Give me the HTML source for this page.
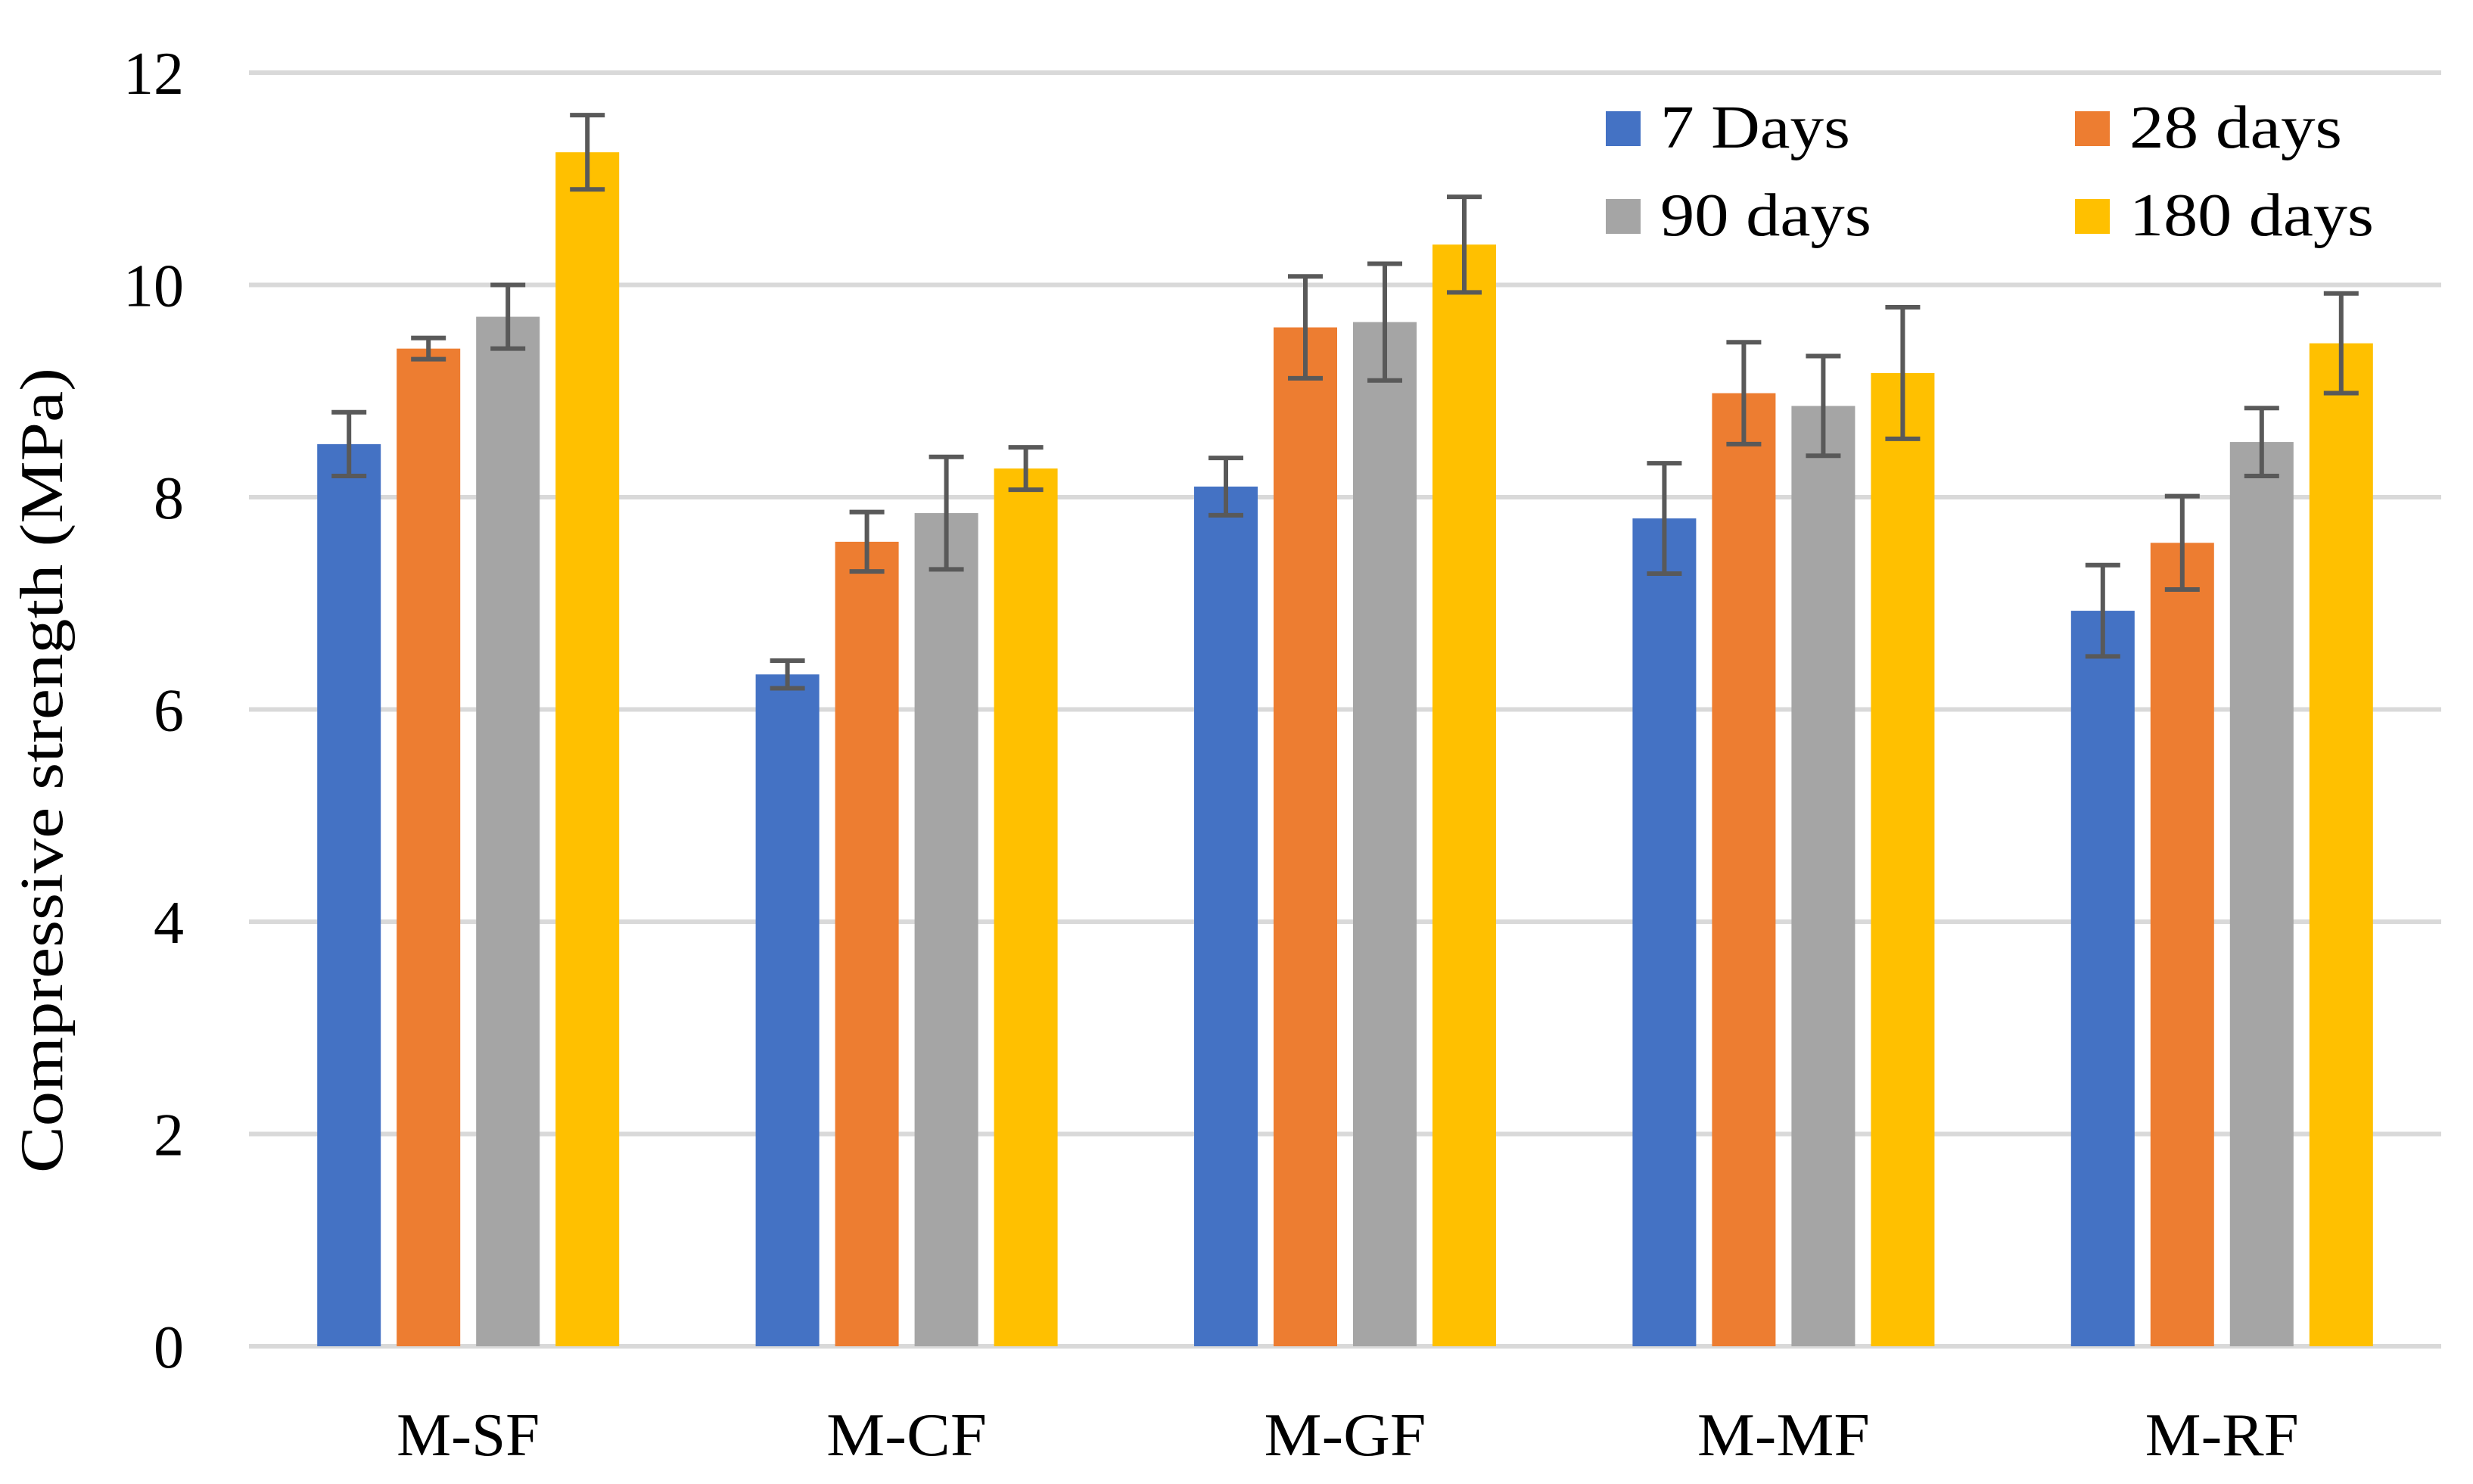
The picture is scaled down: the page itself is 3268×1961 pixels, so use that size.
<!DOCTYPE html>
<html><head><meta charset="utf-8"><style>
html,body{margin:0;padding:0;background:#fff;}
svg{display:block;font-family:"Liberation Serif",serif;}
</style></head><body>
<svg id="chart" width="3268" height="1961" viewBox="0 0 3268 1961" xmlns="http://www.w3.org/2000/svg">
<g id="grid"></g><g id="bars"></g><g id="errs"></g><g id="labels"></g>
<text transform="translate(82,1018) rotate(-90)" text-anchor="middle" font-size="80" textLength="1064" lengthAdjust="spacingAndGlyphs" fill="#000">Compressive strength (MPa)</text>
<g id="legend"></g>
</svg>
<script>
const categories = ["M-SF","M-CF","M-GF","M-MF","M-RF"];
const seriesNames = ["7 Days","28 days","90 days","180 days"];
const days7 = [8.5, 6.33, 8.1, 7.8, 6.93];
const days28 = [9.4, 7.58, 9.6, 8.98, 7.57];
const days90 = [9.7, 7.85, 9.65, 8.86, 8.52];
const days180 = [11.25, 8.27, 10.38, 9.17, 9.45];
const err7 = [0.3, 0.13, 0.27, 0.52, 0.43];
const err28 = [0.1, 0.28, 0.48, 0.48, 0.44];
const err90 = [0.3, 0.53, 0.55, 0.47, 0.32];
const err180 = [0.35, 0.2, 0.45, 0.62, 0.47];
const yTicks = [0, 2, 4, 6, 8, 10, 12];

const colors = ["#4472c4","#ed7d31","#a5a5a5","#ffc000"];
const series = [days7, days28, days90, days180];
const errs = [err7, err28, err90, err180];
const catLen = [189, 212, 214, 228, 203];
const legLen = [251, 281, 279, 323];
const NS = "http://www.w3.org/2000/svg";
const plotL = 329, plotR = 3226, y0 = 1779, yTop = 96, yMax = 12;
const catW = (plotR - plotL) / categories.length;
const barW = 84, barStep = 105;
function y(v){ return y0 - (v / yMax) * (y0 - yTop); }
function xCenter(i){ return plotL + catW * (i + 0.5); }
function xBar(i, s){ return xCenter(i) + (s - 1.5) * barStep - barW / 2; }
function mk(tag, attrs, parent){ const e = document.createElementNS(NS, tag); for (const k in attrs) e.setAttribute(k, attrs[k]); parent.appendChild(e); return e; }

const grid = document.getElementById('grid');
const labels = document.getElementById('labels');
yTicks.forEach(t => {
  const l = mk('line', {x1: plotL, x2: plotR, y1: y(t), y2: y(t), stroke: '#d9d9d9', 'stroke-width': 6}, grid);
  
  
  const tx = mk('text', {x: 243, y: y(t) + 28, 'text-anchor': 'end', 'font-size': 80, fill: '#000'}, labels);
  tx.textContent = t;
  
  
});
categories.forEach((c, i) => {
  const tx = mk('text', {x: xCenter(i), y: 1923, 'text-anchor': 'middle', 'font-size': 80, textLength: catLen[i], lengthAdjust: 'spacingAndGlyphs', fill: '#000'}, labels);
  tx.textContent = c;
  
  
});
const bars = document.getElementById('bars');
const eg = document.getElementById('errs');
series.forEach((vals, s) => {
  vals.forEach((v, i) => {
    const r = mk('rect', {x: xBar(i, s), y: y(v), width: barW, height: y0 - y(v), fill: colors[s]}, bars);
    
    
    const cx = xBar(i, s) + barW / 2, e = errs[s][i];
    const g = mk('g', {stroke: '#595959', 'stroke-width': 6}, eg);
    
    
    mk('line', {x1: cx, x2: cx, y1: y(v + e), y2: y(v - e)}, g);
    mk('line', {x1: cx - 23, x2: cx + 23, y1: y(v + e), y2: y(v + e)}, g);
    mk('line', {x1: cx - 23, x2: cx + 23, y1: y(v - e), y2: y(v - e)}, g);
  });
});
const lg = document.getElementById('legend');
const legPos = [[2122,147],[2742,147],[2122,263],[2742,263]];
seriesNames.forEach((n, s) => {
  const g = mk('g', {}, lg);
  
  
  mk('rect', {x: legPos[s][0], y: legPos[s][1], width: 46, height: 46, fill: colors[s]}, g);
  const t = mk('text', {x: legPos[s][0] + 72, y: legPos[s][1] + 48, 'font-size': 80, textLength: legLen[s], lengthAdjust: 'spacingAndGlyphs', fill: '#000'}, g);
  t.textContent = n;
});
</script>
</body></html>
